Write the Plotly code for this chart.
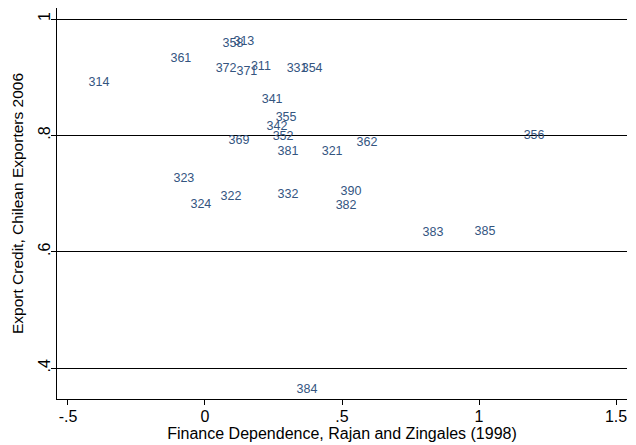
import plotly.graph_objects as go

# Industry codes (labels) and their coordinates
codes = ["314", "361", "358", "313", "372", "371", "311", "331", "354",
         "341", "355", "342", "352", "369", "381", "321", "362", "356",
         "323", "324", "322", "332", "390", "382", "383", "385", "384"]
fin_dep = [-0.387, -0.088, 0.102, 0.142, 0.077, 0.153, 0.204, 0.336, 0.391,
           0.245, 0.296, 0.263, 0.285, 0.124, 0.303, 0.464, 0.591, 1.201,
           -0.077, -0.015, 0.095, 0.303, 0.533, 0.515, 0.832, 1.022, 0.372]
exp_credit = [0.890, 0.931, 0.957, 0.960, 0.914, 0.910, 0.917, 0.914, 0.914,
              0.861, 0.831, 0.814, 0.797, 0.790, 0.771, 0.771, 0.787, 0.800,
              0.725, 0.680, 0.694, 0.698, 0.703, 0.679, 0.632, 0.634, 0.363]

x_ticks = [-0.5, 0, 0.5, 1, 1.5]
x_ticklabels = ["-.5", "0", ".5", "1", "1.5"]
y_ticks = [0.4, 0.6, 0.8, 1.0]
y_ticklabels = [".4", ".6", ".8", "1"]

font_family = "Liberation Sans, Arial, sans-serif"

fig = go.Figure()
fig.add_trace(go.Scatter(
    x=fin_dep, y=exp_credit, text=codes, mode="text",
    textposition="middle center",
    textfont=dict(family=font_family, size=12.5, color="#34557f"),
    hoverinfo="text", showlegend=False,
))

fig.update_layout(
    width=636, height=445,
    margin=dict(l=57, r=9, t=8, b=46),
    paper_bgcolor="white", plot_bgcolor="white",
    font=dict(family=font_family, color="black"),
    xaxis=dict(
        range=[-0.54, 1.54], tickvals=x_ticks, ticktext=x_ticklabels,
        showgrid=False, zeroline=False, showline=True, linecolor="black",
        linewidth=1, ticks="outside", ticklen=5, tickcolor="black",
        tickfont=dict(size=16, color="black"),
        ticklabelstandoff=-2,
        title=dict(text="Finance Dependence, Rajan and Zingales (1998)",
                   font=dict(size=16, color="black"), standoff=1),
    ),
    yaxis=dict(
        range=[0.347, 1.019], tickvals=y_ticks, ticktext=y_ticklabels,
        showgrid=True, gridcolor="black", gridwidth=1.3,
        zeroline=False, showline=True, linecolor="black",
        linewidth=1, ticks="outside", ticklen=5, tickcolor="black",
        tickangle=-90, ticklabelstandoff=-5,
        tickfont=dict(size=16, color="black"),
        title=dict(text="Export Credit, Chilean Exporters 2006",
                   font=dict(size=15.5, color="black"), standoff=8),
    ),
)

fig.write_html("out.html")
